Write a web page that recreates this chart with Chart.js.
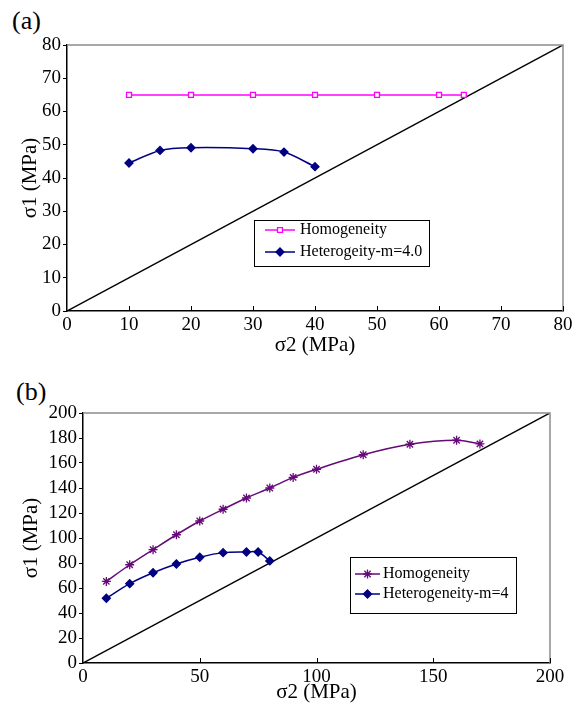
<!DOCTYPE html>
<html>
<head>
<meta charset="utf-8">
<script src="https://cdn.jsdelivr.net/npm/chart.js@4/dist/chart.umd.min.js"></script>
<style>
  body { margin: 0; background: #fff; }
  #wrap { position: relative; width: 576px; height: 715px; }
  canvas { position: absolute; left: 0; }
  .tag { position: absolute; font: 26px/26px "Liberation Serif", "Times New Roman", serif; color: #000; }
</style>
</head>
<body>
<div id="wrap">
  <div class="tag" style="left:12px; top:8px">(a)</div>
  <div class="tag" style="left:16px; top:379px">(b)</div>
  <canvas id="chartA" width="576" height="360" style="top:0"></canvas>
  <canvas id="chartB" width="576" height="355" style="top:360px"></canvas>
</div>
<script>
// (a) strength envelope, 0-80 MPa
const aHomX = [10, 20, 30, 40, 50, 60, 64];
const aHomY = [65, 65, 65, 65, 65, 65, 65];
const aHetX = [10, 15, 20, 30, 35, 40];
const aHetY = [44.5, 48.3, 49.1, 48.8, 47.8, 43.4];
const aDiag = [0, 80];

// (b) strength envelope, 0-200 MPa
const bHomX = [10, 20, 30, 40, 50, 60, 70, 80, 90, 100, 120, 140, 160, 170];
const bHomY = [65.3, 78.6, 90.7, 102.6, 113.6, 123, 132, 140, 148.5, 155, 166.6, 175, 178.2, 175.3];
const bHetX = [10, 20, 30, 40, 50, 60, 70, 75, 80];
const bHetY = [51.8, 63.5, 72.2, 79.2, 84.6, 88.3, 88.8, 88.8, 81.7];
const bDiag = [0, 200];

const SERIF = '"Liberation Serif", "Times New Roman", serif';

function pts(xs, ys) {
    return xs.map((x, i) => ({ x: x, y: ys[i] }));
}

// grey top/right frame and inward ticks on the x axis
const framePlugin = {
    id: 'frame',
    afterDraw(chart) {
        const ctx = chart.ctx;
        const a = chart.chartArea;
        const xs = chart.scales.x;
        ctx.save();
        ctx.strokeStyle = '#8c8c8c';
        ctx.lineWidth = 1.5;
        ctx.beginPath();
        ctx.moveTo(a.left, a.top);
        ctx.lineTo(a.right, a.top);
        ctx.lineTo(a.right, a.bottom);
        ctx.stroke();
        ctx.strokeStyle = '#000';
        ctx.lineWidth = 1;
        xs.ticks.forEach(t => {
            if (t.value === xs.min) return;
            const px = Math.round(xs.getPixelForValue(t.value)) + 0.5;
            ctx.beginPath();
            ctx.moveTo(px, a.bottom);
            ctx.lineTo(px, a.bottom - 5);
            ctx.stroke();
        });
        ctx.restore();
    }
};

// boxed legend sitting inside the plot
const boxLegend = {
    id: 'boxLegend',
    afterDatasetsDraw(chart, args, opts) {
        const ctx = chart.ctx;
        ctx.save();
        ctx.fillStyle = '#fff';
        ctx.fillRect(opts.x, opts.y, opts.w, opts.h);
        ctx.strokeStyle = '#000';
        ctx.lineWidth = 1;
        ctx.strokeRect(opts.x + 0.5, opts.y + 0.5, opts.w, opts.h);
        ctx.font = opts.fontSize + 'px ' + SERIF;
        ctx.textBaseline = 'middle';
        opts.rows.forEach((row, i) => {
            const ds = chart.data.datasets[i];
            const y = opts.rowY[i];
            ctx.strokeStyle = ds.borderColor;
            ctx.lineWidth = ds.borderWidth;
            ctx.beginPath();
            ctx.moveTo(opts.lineX[0], y);
            ctx.lineTo(opts.lineX[1], y);
            ctx.stroke();
            ctx.fillStyle = ds.pointBackgroundColor;
            ctx.strokeStyle = ds.pointBorderColor;
            ctx.lineWidth = ds.pointBorderWidth;
            Chart.helpers.drawPoint(ctx, {
                pointStyle: ds.pointStyle,
                radius: ds.pointRadius,
                rotation: 0,
                borderWidth: ds.pointBorderWidth
            }, (opts.lineX[0] + opts.lineX[1]) / 2, y);
            ctx.fillStyle = '#000';
            ctx.fillText(row, opts.textX, y);
        });
        ctx.restore();
    }
};

function axis(max, step, title, fit, titlePad, horizontal) {
    return {
        type: 'linear',
        min: 0,
        max: max,
        ticks: {
            stepSize: step,
            autoSkip: false,
            color: '#000',
            padding: horizontal ? 3 : 2,
            maxRotation: 0,
            font: { family: SERIF, size: 19 }
        },
        grid: horizontal
            ? { drawOnChartArea: false, drawTicks: false }
            : { drawOnChartArea: false, tickLength: 4, color: '#000', lineWidth: 1 },
        border: { color: '#000', width: 1.5 },
        title: {
            display: true,
            text: title,
            color: '#000',
            font: { family: SERIF, size: 21 },
            padding: titlePad
        },
        afterFit: horizontal
            ? function(s) { s.height = fit; }
            : function(s) { s.width = fit; }
    };
}

function series(label, data, color, style, radius, fill, tension) {
    return {
        label: label,
        data: data,
        borderColor: color,
        borderWidth: 1.5,
        pointStyle: style,
        pointRadius: radius,
        pointBorderColor: color,
        pointBackgroundColor: fill,
        pointBorderWidth: 1.3,
        tension: tension,
        fill: false
    };
}

function diagonal(ends) {
    return {
        label: 'diag',
        data: pts(ends, ends),
        borderColor: '#000',
        borderWidth: 1.5,
        pointRadius: 0,
        tension: 0,
        fill: false
    };
}

function drawCharts() {
    new Chart(document.getElementById('chartA'), {
        type: 'line',
        data: {
            datasets: [
                series('Homogeneity', pts(aHomX, aHomY), '#ff00ff', 'rect', 3.5, '#ffffff', 0),
                series('Heterogeity-m=4.0', pts(aHetX, aHetY), '#000080', 'rectRot', 4, '#000080', 0.3),
                diagonal(aDiag)
            ]
        },
        options: {
            responsive: false,
            animation: false,
            devicePixelRatio: 1,
            layout: { padding: { top: 45, right: 13, left: 0, bottom: 0 } },
            plugins: {
                legend: { display: false },
                tooltip: { enabled: false },
                boxLegend: {
                    x: 254, y: 220, w: 175, h: 46,
                    rowY: [230, 252], lineX: [265, 295], textX: 300, fontSize: 16,
                    rows: ['Homogeneity', 'Heterogeity-m=4.0']
                }
            },
            scales: {
                x: axis(80, 10, 'σ2 (MPa)', 49, { top: 0, bottom: 2 }, true),
                y: axis(80, 10, 'σ1 (MPa)', 67, { top: 18, bottom: 0 }, false)
            }
        },
        plugins: [framePlugin, boxLegend]
    });

    new Chart(document.getElementById('chartB'), {
        type: 'line',
        data: {
            datasets: [
                series('Homogeneity', pts(bHomX, bHomY), '#660a78', 'star', 4.5, '#660a78', 0.3),
                series('Heterogeneity-m=4', pts(bHetX, bHetY), '#000080', 'rectRot', 4, '#000080', 0.3),
                diagonal(bDiag)
            ]
        },
        options: {
            responsive: false,
            animation: false,
            devicePixelRatio: 1,
            layout: { padding: { top: 53, right: 26, left: 0, bottom: 0 } },
            plugins: {
                legend: { display: false },
                tooltip: { enabled: false },
                boxLegend: {
                    x: 350, y: 197, w: 166, h: 56,
                    rowY: [214, 234], lineX: [355, 380], textX: 383, fontSize: 16,
                    rows: ['Homogeneity', 'Heterogeneity-m=4']
                }
            },
            scales: {
                x: axis(200, 50, 'σ2 (MPa)', 52, { top: 0, bottom: 10 }, true),
                y: axis(200, 20, 'σ1 (MPa)', 83, { top: 19, bottom: 0 }, false)
            }
        },
        plugins: [framePlugin, boxLegend]
    });
}

// make sure the serif face is ready before the canvases measure text
document.fonts.load('19px "Liberation Serif"').then(drawCharts, drawCharts);
</script>
</body>
</html>
